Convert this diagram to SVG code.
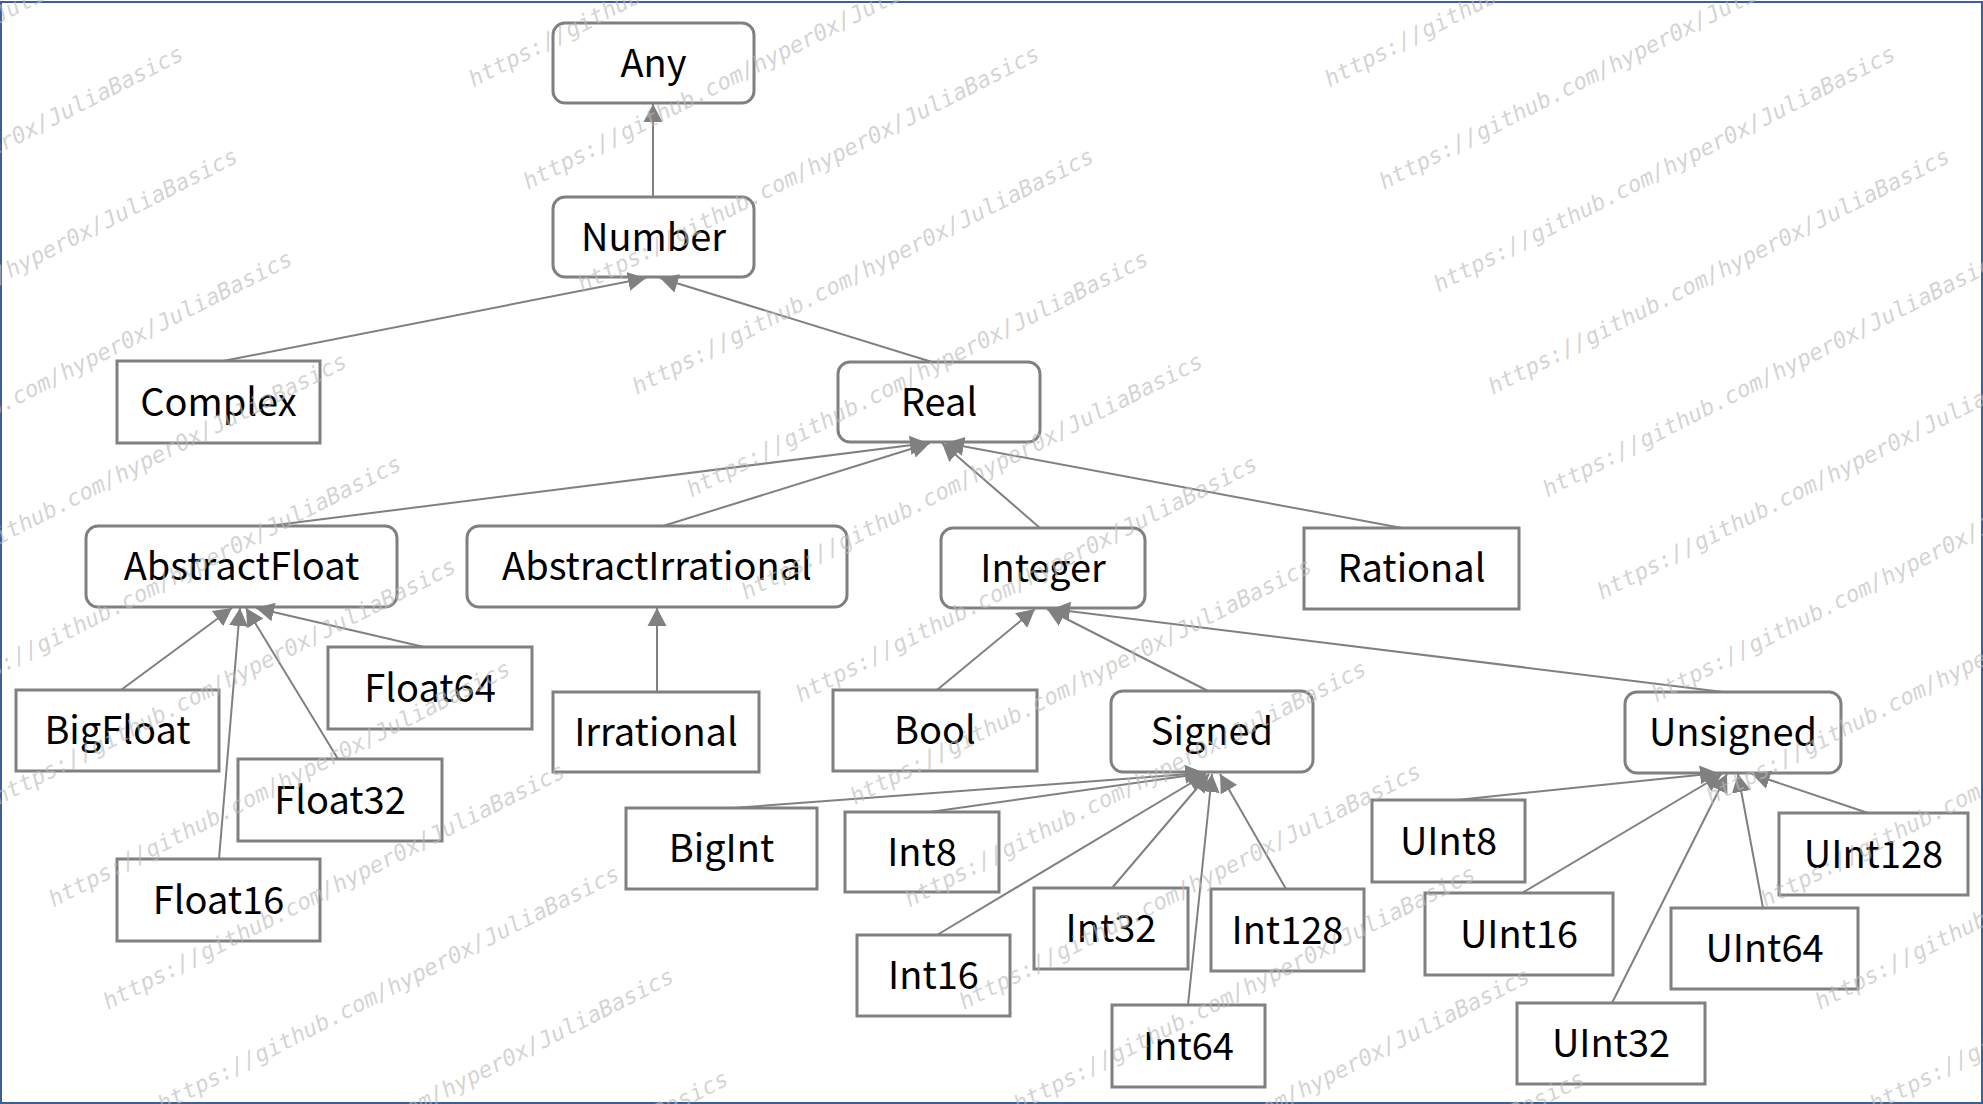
<svg xmlns="http://www.w3.org/2000/svg" width="1983" height="1104" viewBox="0 0 1983 1104">
<style>
.box{fill:none;stroke:#808080;stroke-width:3}
.lbl{font-family:"Noto Sans CJK SC","Noto Sans",sans-serif;font-size:38px;fill:#000;text-anchor:middle}
.edge{stroke:#808080;stroke-width:2;fill:none;marker-end:url(#arr)}
.wm{font-family:"DejaVu Sans Mono",monospace;font-style:italic;font-size:22.5px;fill:#bbbbbb;fill-opacity:0.65}
</style>
<defs>
<marker id="arr" markerUnits="userSpaceOnUse" markerWidth="20" markerHeight="20" viewBox="-18 -10 20 20" refX="0" refY="0" orient="auto">
<path d="M0,0 L-18,-9.5 L-18,9.5 z" fill="#808080"/>
</marker>
</defs>
<rect x="0" y="0" width="1983" height="1104" fill="#ffffff"/>
<rect x="1" y="2" width="1981" height="1101" fill="none" stroke="#3e5d9c" stroke-width="2"/>

<g id="connectors">
<line class="edge" x1="653" y1="197" x2="653" y2="104"/>
<line class="edge" x1="223" y1="361" x2="646" y2="278"/>
<line class="edge" x1="932" y1="362" x2="660" y2="278"/>
<line class="edge" x1="268" y1="526" x2="928" y2="443"/>
<line class="edge" x1="663" y1="526" x2="930" y2="443"/>
<line class="edge" x1="1040" y1="528" x2="942" y2="443"/>
<line class="edge" x1="1402" y1="528" x2="946" y2="443"/>
<line class="edge" x1="121" y1="690" x2="232" y2="608"/>
<line class="edge" x1="219" y1="859" x2="240" y2="608"/>
<line class="edge" x1="338" y1="759" x2="246" y2="608"/>
<line class="edge" x1="424" y1="647" x2="256" y2="608"/>
<line class="edge" x1="657" y1="692" x2="657" y2="608"/>
<line class="edge" x1="937" y1="690" x2="1035" y2="609"/>
<line class="edge" x1="1208" y1="691" x2="1047" y2="609"/>
<line class="edge" x1="1723" y1="692" x2="1052" y2="609"/>
<line class="edge" x1="733" y1="808" x2="1203" y2="773"/>
<line class="edge" x1="930" y1="812" x2="1206" y2="773"/>
<line class="edge" x1="937" y1="935" x2="1206" y2="774"/>
<line class="edge" x1="1112" y1="888" x2="1209" y2="774"/>
<line class="edge" x1="1188" y1="1005" x2="1212" y2="774"/>
<line class="edge" x1="1286" y1="889" x2="1220" y2="774"/>
<line class="edge" x1="1457" y1="800" x2="1718" y2="773"/>
<line class="edge" x1="1522" y1="893" x2="1722" y2="774"/>
<line class="edge" x1="1612" y1="1003" x2="1727" y2="774"/>
<line class="edge" x1="1763" y1="908" x2="1738" y2="774"/>
<line class="edge" x1="1868" y1="813" x2="1752" y2="774"/>
</g>

<g id="node-Any"><rect class="box" x="553" y="23" width="201" height="80" rx="12"/><text class="lbl" x="653.5" y="76.5">Any</text></g>
<g id="node-Number"><rect class="box" x="553" y="197" width="201" height="80" rx="12"/><text class="lbl" x="653.5" y="250.5">Number</text></g>
<g id="node-Complex"><rect class="box" x="117" y="361" width="203" height="82"/><text class="lbl" x="218.5" y="415.5">Complex</text></g>
<g id="node-Real"><rect class="box" x="838" y="362" width="202" height="80" rx="12"/><text class="lbl" x="939" y="415.5">Real</text></g>
<g id="node-AbstractFloat"><rect class="box" x="86" y="526" width="311" height="81" rx="12"/><text class="lbl" x="241.5" y="580">AbstractFloat</text></g>
<g id="node-AbstractIrrational"><rect class="box" x="467" y="526" width="380" height="81" rx="12"/><text class="lbl" x="657" y="580">AbstractIrrational</text></g>
<g id="node-Integer"><rect class="box" x="941" y="528" width="204" height="80" rx="12"/><text class="lbl" x="1043" y="581.5">Integer</text></g>
<g id="node-Rational"><rect class="box" x="1304" y="528" width="215" height="81"/><text class="lbl" x="1411.5" y="582">Rational</text></g>
<g id="node-BigFloat"><rect class="box" x="16" y="690" width="203" height="81"/><text class="lbl" x="117.5" y="744">BigFloat</text></g>
<g id="node-Float64"><rect class="box" x="328" y="647" width="204" height="82"/><text class="lbl" x="430" y="701.5">Float64</text></g>
<g id="node-Float32"><rect class="box" x="238" y="759" width="204" height="82"/><text class="lbl" x="340" y="813.5">Float32</text></g>
<g id="node-Float16"><rect class="box" x="117" y="859" width="203" height="82"/><text class="lbl" x="218.5" y="913.5">Float16</text></g>
<g id="node-Irrational"><rect class="box" x="553" y="692" width="206" height="80"/><text class="lbl" x="656" y="745.5">Irrational</text></g>
<g id="node-Bool"><rect class="box" x="833" y="690" width="204" height="81"/><text class="lbl" x="935" y="744">Bool</text></g>
<g id="node-Signed"><rect class="box" x="1111" y="691" width="202" height="81" rx="12"/><text class="lbl" x="1212" y="745">Signed</text></g>
<g id="node-Unsigned"><rect class="box" x="1625" y="692" width="216" height="81" rx="12"/><text class="lbl" x="1733" y="746">Unsigned</text></g>
<g id="node-BigInt"><rect class="box" x="626" y="808" width="191" height="81"/><text class="lbl" x="721.5" y="862">BigInt</text></g>
<g id="node-Int8"><rect class="box" x="845" y="812" width="154" height="80"/><text class="lbl" x="922" y="865.5">Int8</text></g>
<g id="node-Int16"><rect class="box" x="857" y="935" width="153" height="81"/><text class="lbl" x="933.5" y="989">Int16</text></g>
<g id="node-Int32"><rect class="box" x="1034" y="888" width="154" height="81"/><text class="lbl" x="1111" y="942">Int32</text></g>
<g id="node-Int128"><rect class="box" x="1211" y="889" width="153" height="82"/><text class="lbl" x="1287.5" y="943.5">Int128</text></g>
<g id="node-Int64"><rect class="box" x="1112" y="1005" width="153" height="82"/><text class="lbl" x="1188.5" y="1059.5">Int64</text></g>
<g id="node-UInt8"><rect class="box" x="1372" y="800" width="153" height="82"/><text class="lbl" x="1448.5" y="854.5">UInt8</text></g>
<g id="node-UInt16"><rect class="box" x="1425" y="893" width="188" height="82"/><text class="lbl" x="1519" y="947.5">UInt16</text></g>
<g id="node-UInt32"><rect class="box" x="1517" y="1003" width="188" height="81"/><text class="lbl" x="1611" y="1057">UInt32</text></g>
<g id="node-UInt64"><rect class="box" x="1671" y="908" width="187" height="81"/><text class="lbl" x="1764.5" y="962">UInt64</text></g>
<g id="node-UInt128"><rect class="box" x="1779" y="813" width="189" height="82"/><text class="lbl" x="1873.5" y="867.5">UInt128</text></g>

<g id="watermark" class="wm">
<text x="-328" y="190" transform="rotate(-27 -328 190)">https://github.com/hyper0x/JuliaBasics</text>
<text x="-273.5" y="292.5" transform="rotate(-27 -273.5 292.5)">https://github.com/hyper0x/JuliaBasics</text>
<text x="-219" y="395" transform="rotate(-27 -219 395)">https://github.com/hyper0x/JuliaBasics</text>
<text x="-164.5" y="497.5" transform="rotate(-27 -164.5 497.5)">https://github.com/hyper0x/JuliaBasics</text>
<text x="-110" y="600" transform="rotate(-27 -110 600)">https://github.com/hyper0x/JuliaBasics</text>
<text x="-55.5" y="702.5" transform="rotate(-27 -55.5 702.5)">https://github.com/hyper0x/JuliaBasics</text>
<text x="-1" y="805" transform="rotate(-27 -1 805)">https://github.com/hyper0x/JuliaBasics</text>
<text x="53.5" y="907.5" transform="rotate(-27 53.5 907.5)">https://github.com/hyper0x/JuliaBasics</text>
<text x="108" y="1010" transform="rotate(-27 108 1010)">https://github.com/hyper0x/JuliaBasics</text>
<text x="162.5" y="1112.5" transform="rotate(-27 162.5 1112.5)">https://github.com/hyper0x/JuliaBasics</text>
<text x="217" y="1215" transform="rotate(-27 217 1215)">https://github.com/hyper0x/JuliaBasics</text>
<text x="271.5" y="1317.5" transform="rotate(-27 271.5 1317.5)">https://github.com/hyper0x/JuliaBasics</text>
<text x="473.5" y="87.5" transform="rotate(-27 473.5 87.5)">https://github.com/hyper0x/JuliaBasics</text>
<text x="528" y="190" transform="rotate(-27 528 190)">https://github.com/hyper0x/JuliaBasics</text>
<text x="582.5" y="292.5" transform="rotate(-27 582.5 292.5)">https://github.com/hyper0x/JuliaBasics</text>
<text x="637" y="395" transform="rotate(-27 637 395)">https://github.com/hyper0x/JuliaBasics</text>
<text x="691.5" y="497.5" transform="rotate(-27 691.5 497.5)">https://github.com/hyper0x/JuliaBasics</text>
<text x="746" y="600" transform="rotate(-27 746 600)">https://github.com/hyper0x/JuliaBasics</text>
<text x="800.5" y="702.5" transform="rotate(-27 800.5 702.5)">https://github.com/hyper0x/JuliaBasics</text>
<text x="855" y="805" transform="rotate(-27 855 805)">https://github.com/hyper0x/JuliaBasics</text>
<text x="909.5" y="907.5" transform="rotate(-27 909.5 907.5)">https://github.com/hyper0x/JuliaBasics</text>
<text x="964" y="1010" transform="rotate(-27 964 1010)">https://github.com/hyper0x/JuliaBasics</text>
<text x="1018.5" y="1112.5" transform="rotate(-27 1018.5 1112.5)">https://github.com/hyper0x/JuliaBasics</text>
<text x="1073" y="1215" transform="rotate(-27 1073 1215)">https://github.com/hyper0x/JuliaBasics</text>
<text x="1127.5" y="1317.5" transform="rotate(-27 1127.5 1317.5)">https://github.com/hyper0x/JuliaBasics</text>
<text x="1329.5" y="87.5" transform="rotate(-27 1329.5 87.5)">https://github.com/hyper0x/JuliaBasics</text>
<text x="1384" y="190" transform="rotate(-27 1384 190)">https://github.com/hyper0x/JuliaBasics</text>
<text x="1438.5" y="292.5" transform="rotate(-27 1438.5 292.5)">https://github.com/hyper0x/JuliaBasics</text>
<text x="1493" y="395" transform="rotate(-27 1493 395)">https://github.com/hyper0x/JuliaBasics</text>
<text x="1547.5" y="497.5" transform="rotate(-27 1547.5 497.5)">https://github.com/hyper0x/JuliaBasics</text>
<text x="1602" y="600" transform="rotate(-27 1602 600)">https://github.com/hyper0x/JuliaBasics</text>
<text x="1656.5" y="702.5" transform="rotate(-27 1656.5 702.5)">https://github.com/hyper0x/JuliaBasics</text>
<text x="1711" y="805" transform="rotate(-27 1711 805)">https://github.com/hyper0x/JuliaBasics</text>
<text x="1765.5" y="907.5" transform="rotate(-27 1765.5 907.5)">https://github.com/hyper0x/JuliaBasics</text>
<text x="1820" y="1010" transform="rotate(-27 1820 1010)">https://github.com/hyper0x/JuliaBasics</text>
<text x="1874.5" y="1112.5" transform="rotate(-27 1874.5 1112.5)">https://github.com/hyper0x/JuliaBasics</text>
<text x="1929" y="1215" transform="rotate(-27 1929 1215)">https://github.com/hyper0x/JuliaBasics</text>
</g>
</svg>
